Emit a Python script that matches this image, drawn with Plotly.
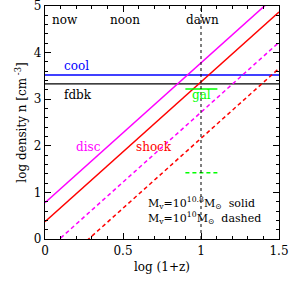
import plotly.graph_objects as go

# data
x_ends = [0.0, 1.5]
disc_solid = [0.78, 5.28]
shock_solid = [0.37, 4.87]
disc_dashed = [-0.28, 4.22]
shock_dashed = [-0.84, 3.66]
cool_level = 3.52
fdbk_level = 3.33
gal_x = [0.90, 1.105]
gal_solid = 3.22
gal_dashed = 1.42
dawn_x = 1.0

FONT = "DejaVu Serif"
fig = go.Figure()

def add_line(x, y, color, dash="solid", width=1.5):
    fig.add_trace(go.Scatter(x=x, y=y, mode="lines",
                             line=dict(color=color, width=width, dash=dash),
                             hoverinfo="skip", showlegend=False))

add_line(x_ends, [cool_level, cool_level], "#0000ff")
add_line(x_ends, [fdbk_level, fdbk_level], "#000000", width=1.2)
add_line(x_ends, disc_solid, "#ff00ff")
add_line(x_ends, shock_solid, "#ff0000")
add_line(x_ends, disc_dashed, "#ff00ff", dash="4px,3px")
add_line(x_ends, shock_dashed, "#ff0000", dash="4px,3px")
add_line(gal_x, [gal_solid, gal_solid], "#00ff00")
add_line(gal_x, [gal_dashed, gal_dashed], "#00ff00", dash="4px,3px")
add_line([dawn_x, dawn_x], [0, 5], "#000000", dash="dot", width=1)

def txt(x, y, s, color="black", xanchor="center", size=12):
    fig.add_annotation(x=x, y=y, text=s, showarrow=False, xanchor=xanchor,
                       yanchor="middle", font=dict(family=FONT, size=size, color=color))

txt(0.03, 4.7, "now", xanchor="left")
txt(0.51, 4.7, "noon")
txt(1.01, 4.7, "dawn")
txt(0.11, 3.72, "cool", color="#0000ff", xanchor="left")
txt(0.11, 3.1, "fdbk", xanchor="left")
txt(0.28, 1.97, "disc", color="#ff00ff")
txt(0.70, 1.97, "shock", color="#ff0000")
txt(1.0, 3.08, "gal", color="#00ff00")
txt(0.645, 0.77, "M<sub>v</sub>=10<sup>10.8</sup>M<sub>⊙</sub>  solid", xanchor="left", size=11)
txt(0.645, 0.45, "M<sub>v</sub>=10<sup>10</sup>M<sub>⊙</sub>  dashed", xanchor="left", size=11)

axis_common = dict(showgrid=False, zeroline=False, showline=True, linecolor="black",
                   linewidth=1.2, mirror="allticks", ticks="inside", ticklen=6,
                   tickcolor="black", automargin=False, ticklabeloverflow="allow",
                   tickfont=dict(family=FONT, size=12, color="black"))

fig.update_xaxes(range=[0, 1.5], tickvals=[0, 0.5, 1, 1.5], ticktext=["0", "0.5", "1", "1.5"],
                 minor=dict(dtick=0.1, ticks="inside", ticklen=3, tickcolor="black", showgrid=False),
                 title=dict(text="log (1+z)", font=dict(family=FONT, size=12, color="black"), standoff=6),
                 **axis_common)
fig.update_yaxes(range=[0, 5], tickvals=[0, 1, 2, 3, 4, 5],
                 minor=dict(dtick=0.2, ticks="inside", ticklen=3, tickcolor="black", showgrid=False),
                 title=dict(text="log density n [cm<sup> -3</sup>]", font=dict(family=FONT, size=12, color="black"), standoff=4),
                 **axis_common)

fig.update_layout(width=293, height=282, margin=dict(l=45, r=14, t=6, b=43),
                  plot_bgcolor="white", paper_bgcolor="white", showlegend=False)

fig.write_html("out.html", config={"displayModeBar": False},
               post_script="document.body.style.margin='0';")
